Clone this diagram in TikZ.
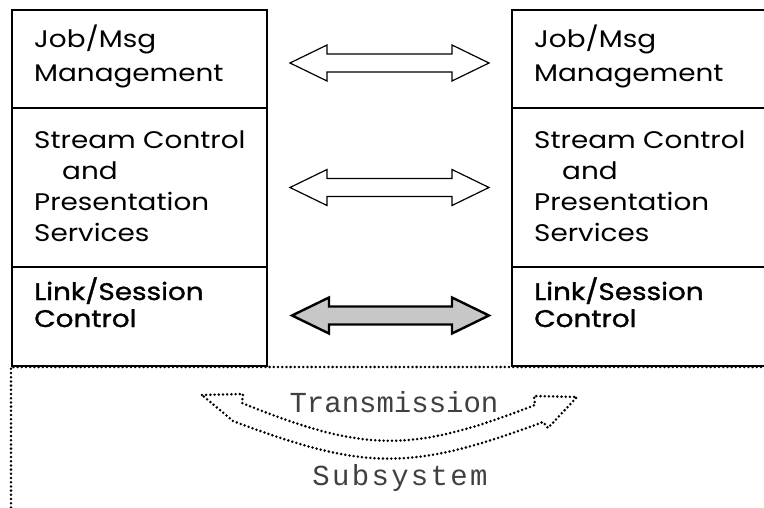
\documentclass[tikz,border=0pt]{standalone}
\usepackage{fontspec}
\setmainfont{Poppins}[FakeStretch=1.16]
\newfontfamily\heavier{Poppins}[FakeStretch=1.16,FakeBold=1.2]
\newfontfamily\dotfont{Liberation Mono}
\usetikzlibrary{positioning,calc}

\newcommand{\twoway}[3][]{%
  \draw[#1] (#2) -- ++(37,18) -- ++(0,-9) -- ($(#3)+(-37,9)$) -- ++(0,9)
    -- (#3) -- ++(-37,-18) -- ++(0,9) -- ($(#2)+(37,-9)$) -- ++(0,-9) -- cycle;}

\begin{document}
\begin{tikzpicture}[x=1pt,y=1pt
  ,layer/.style={draw,line width=1.2pt,minimum width=255pt
    ,outer sep=0pt,inner sep=0pt}
  ,txt/.style={anchor=base west,inner sep=0pt,align=left
    ,font=\fontsize{24}{31}\selectfont}
  ,peer/.style={line width=1.2pt,line join=miter}
  ,dotline/.style={line width=2.8pt,dash pattern=on 0pt off 4.2pt
    ,line cap=round,line join=round}
  ,lbl/.style={inner sep=0pt,anchor=base,text=black!75
    ,font=\dotfont\fontsize{29}{29}\selectfont}
  ,node distance=0pt]
  \useasboundingbox (0,0) rectangle (764,-508);

  \node[layer,minimum height=98pt,anchor=north west] (jobL) at (12,-10) {};
  \node[layer,minimum height=159pt,below=of jobL] (strL) {};
  \node[layer,minimum height=99pt,below=of strL] (lnkL) {};

  \node[layer,minimum height=98pt,anchor=north west] (jobR) at (512,-10) {};
  \node[layer,minimum height=159pt,below=of jobR] (strR) {};
  \node[layer,minimum height=99pt,below=of strR] (lnkR) {};

  \foreach \s/\x in {L/34,R/534} {
    \node[txt,font=\fontsize{24}{34}\selectfont] (jobt\s) at (\x,-82)
      {Job/Msg\\Management};
    \node[txt] (strt\s) at (\x,-242)
      {Stream Control\\\hspace*{28pt}and\\Presentation\\Services};
    \node[txt,font=\heavier\fontsize{24}{27}\selectfont] (lnkt\s) at (\x,-327)
      {Link/Session\\Control};
  }

  \coordinate (a1) at ($(jobL.east)+(23,-4)$);
  \coordinate (b1) at ($(jobR.west)+(-23,-4)$);
  \coordinate (a2) at ($(strL.east)+(23,0)$);
  \coordinate (b2) at ($(strR.west)+(-23,0)$);
  \coordinate (a3) at ($(lnkL.east)+(25,1)$);
  \coordinate (b3) at ($(lnkR.west)+(-23,1)$);
  \twoway[peer]{a1}{b1}
  \twoway[peer]{a2}{b2}
  \twoway[peer,line width=2.4pt,fill=black!22]{a3}{b3}

  \draw[dotline] (11,-520) -- (11,-367) -- (780,-367);

  \node[lbl] (trans) at (394,-412) {Transmission};
  \node[lbl] (subs) at (400,-485) {\addfontfeature{LetterSpace=8}Subsystem};

  \draw[dotline] (202,-395) -- (243,-394) -- (242,-403)
    .. controls (365,-453) and (412,-453) .. (535,-405)
    -- (534,-396) -- (577,-397) -- (548,-428) -- (543,-422)
    .. controls (412,-471) and (365,-471) .. (233,-421) -- cycle;
\end{tikzpicture}
\end{document}
